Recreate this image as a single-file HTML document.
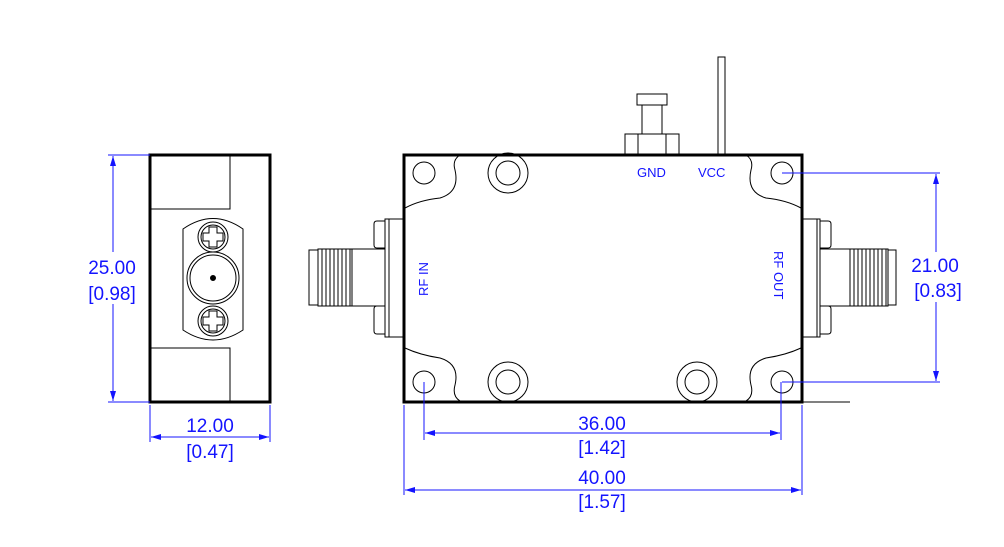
<!DOCTYPE html><html><head><style>body{margin:0;background:#fff}svg{display:block}text{font-family:"Liberation Sans",sans-serif;fill:#1414ff}</style></head><body>
<svg width="1004" height="547" viewBox="0 0 1004 547" xmlns="http://www.w3.org/2000/svg">
<defs><marker id="a" viewBox="0 0 10 6" refX="10" refY="3" markerWidth="10" markerHeight="6" orient="auto-start-reverse" markerUnits="userSpaceOnUse"><path d="M0,0L10,3L0,6z" fill="#1414ff"/></marker></defs>
<g fill="none" stroke="#000" stroke-width="1">
<rect x="150" y="155" width="120" height="247" stroke-width="3"/>
<path d="M151 209H230V155M151 348H230V401"/>
<path d="M183 229Q213 208 243 229V330Q213 350 183 330Z"/>
<circle cx="213" cy="278" r="26"/><circle cx="213" cy="278" r="23"/><circle cx="213" cy="278" r="2.5" fill="#000"/>
<circle cx="213" cy="237" r="15"/><circle cx="213" cy="237" r="12"/>
<path d="M209 227h8v6h6v8h-6v6h-8v-6h-6v-8h6z"/>
<circle cx="213" cy="321" r="15"/><circle cx="213" cy="321" r="12"/>
<path d="M209 311h8v6h6v8h-6v6h-8v-6h-6v-8h6z"/>
<rect x="404" y="155" width="398" height="247" stroke-width="3"/>
<path d="M405 208Q420 200 440 198Q460 192 455 170Q452 160 460 155"/>
<path d="M405 348Q420 355 440 358Q460 364 455 385Q452 396 460 401"/>
<path d="M801 208Q786 200 766 198Q746 192 751 170Q754 160 746 155"/>
<path d="M801 348Q786 355 766 358Q746 364 751 385Q754 396 746 401"/>
<circle cx="424" cy="173" r="11"/><circle cx="424" cy="382" r="11"/>
<circle cx="782" cy="173" r="11"/><circle cx="782" cy="382" r="11"/>
<circle cx="508" cy="173" r="20"/><circle cx="508" cy="173" r="12"/>
<circle cx="508" cy="382" r="20"/><circle cx="508" cy="382" r="12"/>
<circle cx="697" cy="382" r="20"/><circle cx="697" cy="382" r="12"/>
<rect x="625" y="134" width="54" height="20"/><path d="M638 134v20M666 134v20"/>
<rect x="642" y="105" width="20" height="29"/><rect x="637" y="94" width="30" height="11"/>
<rect x="718" y="57" width="7" height="97"/>
<rect x="385" y="219" width="19" height="118"/><path d="M389 219v118"/>
<path d="M385 221h-8q-3 0-3 3v21q0 3 3 3h8M385 306h-8q-3 0-3 3v22q0 3 3 3h8"/>
<rect x="352" y="249" width="33" height="57"/>
<rect x="309" y="250" width="9" height="55"/>
<rect x="318" y="249" width="34" height="57"/>
<path d="M322 249v57M326 249v57M330 249v57M334 249v57M338 249v57M342 249v57M346 249v57M350 249v57"/>
<rect x="802" y="219" width="18" height="118"/><path d="M817 219v118"/>
<path d="M820 221h8q3 0 3 3v21q0 3-3 3h-8M820 306h8q3 0 3 3v22q0 3-3 3h-8"/>
<rect x="820" y="249" width="30" height="57"/>
<rect x="850" y="249" width="38" height="57"/>
<rect x="888" y="250" width="8" height="55"/>
<path d="M854 249v57M858 249v57M862 249v57M866 249v57M870 249v57M874 249v57M878 249v57M882 249v57M886 249v57"/>
<path d="M802 402H850"/>
</g>
<g fill="none" stroke="#1414ff" stroke-width="1">
<path d="M108 155H150M108 402H150"/>
<path d="M113 156V252" marker-start="url(#a)"/>
<path d="M113 304V401" marker-end="url(#a)"/>
<path d="M150 405V442M270 405V442"/>
<path d="M151 437H269" marker-start="url(#a)" marker-end="url(#a)"/>
<path d="M424 382V440M781 382V440"/>
<path d="M425 433H780" marker-start="url(#a)" marker-end="url(#a)"/>
<path d="M404 405V495M802 405V495"/>
<path d="M405 490H801" marker-start="url(#a)" marker-end="url(#a)"/>
<path d="M782 173H940M782 382H940"/>
<path d="M936 174V252" marker-start="url(#a)"/>
<path d="M936 302V381" marker-end="url(#a)"/>
</g>
<g font-size="19" text-anchor="middle">
<text x="112" y="274">25.00</text><text x="112" y="300">[0.98]</text>
<text x="210" y="432">12.00</text><text x="210" y="458">[0.47]</text>
<text x="602" y="430">36.00</text><text x="602" y="454">[1.42]</text>
<text x="602" y="484">40.00</text><text x="602" y="508">[1.57]</text>
<text x="935" y="272">21.00</text><text x="938" y="297">[0.83]</text>
</g>
<g font-size="13">
<text x="637" y="177">GND</text><text x="698" y="177">VCC</text>
<text transform="translate(428,296) rotate(-90)">RF IN</text>
<text transform="translate(774,251) rotate(90)">RF OUT</text>
</g>
</svg></body></html>
